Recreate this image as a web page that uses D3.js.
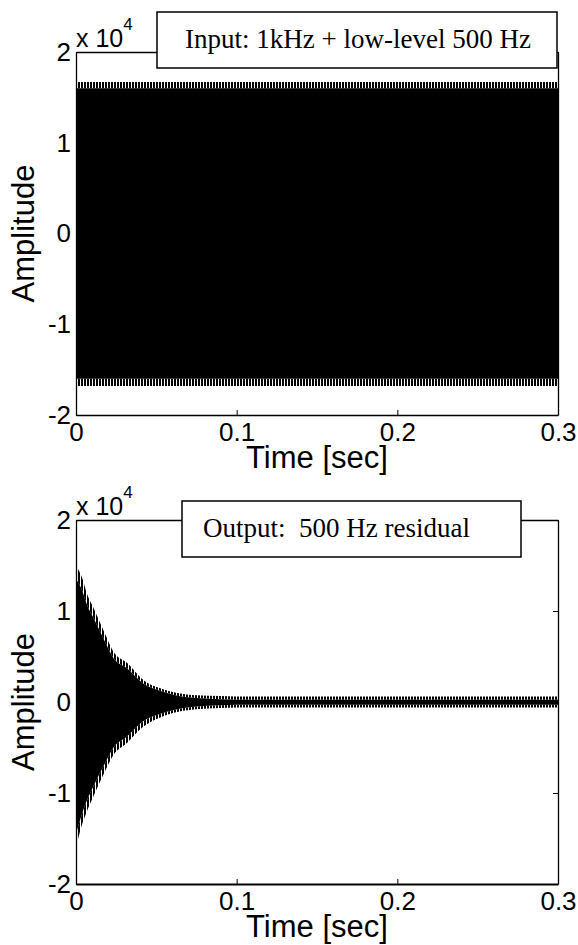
<!DOCTYPE html>
<html>
<head>
<meta charset="utf-8">
<script src="https://cdn.jsdelivr.net/npm/d3@7/dist/d3.min.js"></script>
<style>
  html, body { margin: 0; padding: 0; background: #fff; }
  svg { display: block; }
  .tick text { font-family: "Liberation Sans", Arial, sans-serif; }
</style>
</head>
<body>
<svg id="chart" width="578" height="945"></svg>
<script>
// ---------- data ----------
const xTicks = [0, 0.1, 0.2, 0.3];
const xTickLabels = ["0", "0.1", "0.2", "0.3"];
const yTicks = [-20000, -10000, 0, 10000, 20000];
const yTickLabels = ["-2", "-1", "0", "1", "2"];

// Top panel: 1 kHz + low-level 500 Hz (envelope of the dense trace)
const inputTime     = [0, 0.3];
const inputPeakHigh = [16700, 16700];
const inputBodyHigh = [16000, 16000];
const inputBodyLow  = [-16000, -16000];
const inputPeakLow  = [-16800, -16800];

// Bottom panel: 500 Hz residual (decaying envelope)
const outputTime     = [0, 0.0037, 0.0068, 0.011, 0.017, 0.0234, 0.0317, 0.042, 0.0525, 0.063, 0.075, 0.09, 0.1, 0.3];
const outputPeakHigh = [15000, 13700, 11900, 10300, 7900, 5500, 4300, 2400, 1500, 1000, 750, 650, 600, 600];
const outputBodyHigh = [13500, 12300, 10700, 9200, 7000, 4800, 3700, 2000, 1200, 700, 450, 300, 250, 250];
const outputBodyLow  = [-14500, -12300, -10800, -9200, -7100, -5000, -3800, -2100, -1300, -800, -500, -350, -300, -300];
const outputPeakLow  = [-16000, -13500, -12000, -10300, -8000, -5800, -4500, -2700, -1700, -1100, -800, -650, -600, -600];

const titles = ["Input: 1kHz + low-level 500 Hz", "Output:  500 Hz residual"];
const xLabel = "Time [sec]";
const yLabel = "Amplitude";

// ---------- layout ----------
const svg = d3.select("#chart");
const defs = svg.append("defs");
defs.append("pattern")
  .attr("id", "comb").attr("patternUnits", "userSpaceOnUse")
  .attr("width", 3).attr("height", 20)
  .append("rect").attr("width", 2).attr("height", 20).attr("fill", "#000");

const left = 76, right = 558;
const panels = [
  { top: 52, bottom: 415, time: inputTime, ph: inputPeakHigh, bh: inputBodyHigh, bl: inputBodyLow, pl: inputPeakLow,
    title: titles[0], box: [157, 12, 557, 68], textX: 185, bottomStroke: 1.5 },
  { top: 520, bottom: 884, time: outputTime, ph: outputPeakHigh, bh: outputBodyHigh, bl: outputBodyLow, pl: outputPeakLow,
    title: titles[1], box: [182, 501, 521, 557], textX: 203, bottomStroke: 2 }
];

const x = d3.scaleLinear().domain([0, 0.3]).range([left, right]);

panels.forEach((p, i) => {
  const y = d3.scaleLinear().domain([-20000, 20000]).range([p.bottom, p.top]);
  const g = svg.append("g");

  const clipId = "clip" + i;
  defs.append("clipPath").attr("id", clipId)
    .append("rect").attr("x", left).attr("y", p.top)
    .attr("width", right - left).attr("height", p.bottom - p.top);

  const sig = g.append("g").attr("clip-path", `url(#${clipId})`);
  const idx = d3.range(p.time.length);
  const mk = (lo, hi) => d3.area().curve(d3.curveMonotoneX)
    .x(j => x(p.time[j])).y0(j => y(lo[j])).y1(j => y(hi[j]));

  sig.append("path").attr("d", mk(p.bl, p.bh)(idx)).attr("fill", "#000");
  sig.append("path").attr("d", mk(p.bh, p.ph)(idx)).attr("fill", "url(#comb)");
  sig.append("path").attr("d", mk(p.pl, p.bl)(idx)).attr("fill", "url(#comb)");

  // axes
  const fs = 26;
  const ax = g.append("g").attr("transform", `translate(0,${p.bottom})`)
    .call(d3.axisBottom(x).tickValues(xTicks).tickFormat((d, k) => xTickLabels[k])
      .tickSizeInner(-5).tickSizeOuter(0).tickPadding(8));
  ax.select(".domain").attr("stroke-width", p.bottomStroke);
  const ay = g.append("g").attr("transform", `translate(${left},0)`)
    .call(d3.axisLeft(y).tickValues(yTicks).tickFormat((d, k) => yTickLabels[k])
      .tickSizeInner(-5).tickSizeOuter(0).tickPadding(5));
  const at = g.append("g").attr("transform", `translate(0,${p.top})`)
    .call(d3.axisTop(x).tickValues(xTicks).tickFormat("").tickSizeInner(-5).tickSizeOuter(0));
  const ar = g.append("g").attr("transform", `translate(${right},0)`)
    .call(d3.axisRight(y).tickValues(yTicks).tickFormat("").tickSizeInner(-5).tickSizeOuter(0));
  [ax, ay, at, ar].forEach(a => {
    a.selectAll("text").attr("font-size", fs).attr("fill", "#000");
    a.selectAll("line").attr("stroke", "#000").attr("stroke-width", 1);
    a.select(".domain").attr("stroke", "#000");
  });
  [ay, at, ar].forEach(a => a.select(".domain").attr("stroke-width", 1.3));

  // exponent label
  const ex = g.append("text").attr("x", left).attr("y", p.top - 5)
    .attr("font-family", "Liberation Sans, Arial, sans-serif").attr("font-size", 25).attr("fill", "#000");
  ex.append("tspan").text("x 10");
  ex.append("tspan").attr("dy", -17).attr("font-size", 17).text("4");

  // axis labels
  g.append("text").attr("x", (left + right) / 2).attr("y", p.bottom + 53)
    .attr("text-anchor", "middle").attr("font-family", "Liberation Sans, Arial, sans-serif")
    .attr("font-size", 31).attr("fill", "#000").text(xLabel);
  g.append("text").attr("transform", `translate(34,${(p.top + p.bottom) / 2}) rotate(-90)`)
    .attr("text-anchor", "middle").attr("font-family", "Liberation Sans, Arial, sans-serif")
    .attr("font-size", 31).attr("fill", "#000").text(yLabel);

  // title box
  const [bx0, by0, bx1, by1] = p.box;
  g.append("rect").attr("x", bx0).attr("y", by0).attr("width", bx1 - bx0).attr("height", by1 - by0)
    .attr("fill", "#fff").attr("stroke", "#000").attr("stroke-width", 1.5);
  g.append("text").attr("x", p.textX).attr("y", (by0 + by1) / 2 + 8)
    .attr("text-anchor", "start").attr("font-family", "Liberation Serif, Times New Roman, serif")
    .attr("font-size", 27).attr("fill", "#000").style("white-space", "pre").text(p.title);
});
</script>
</body>
</html>
